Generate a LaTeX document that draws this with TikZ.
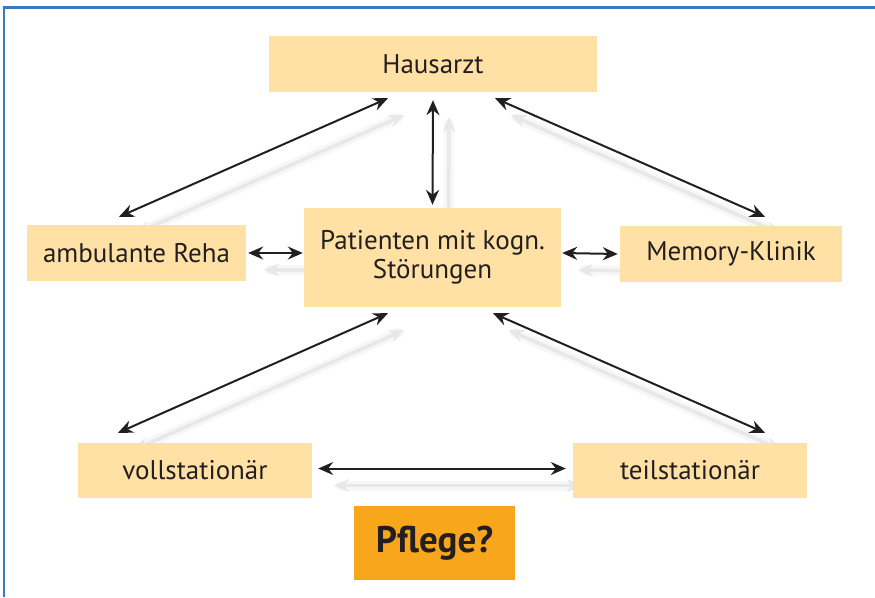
\documentclass[tikz,border=0pt]{standalone}
\usepackage{fontspec}
\setmainfont{PT Sans}
\usetikzlibrary{arrows.meta,backgrounds}

\definecolor{boxfill}{HTML}{FFE1A5}
\definecolor{pflegefill}{HTML}{F8A61C}
\definecolor{framecol}{HTML}{3B78C2}
\definecolor{textcol}{HTML}{231F20}

\tikzset{%
        every box/.style={
            fill=boxfill,
            text=textcol,
            inner sep=0pt,
            align=center,
            font=\fontsize{27}{29}\selectfont
        },
        box pflege/.style={
            fill=pflegefill,
            font=\fontsize{37}{40}\selectfont\bfseries
        },
        link/.style={<->, line width=2pt, draw=textcol},
        shade wide/.style={line width=10pt, draw=black!3, line cap=round},
        shade/.style={<->, line width=3.5pt, draw=black!9},
        frame/.style={line width=2.2pt, draw=framecol}
    }

\newcommand\drawlinks[2]{%
    \draw[#1] ([shift={#2},xshift=-45pt,yshift=-6pt]hausarzt.south) -- ([shift={#2},xshift=-17.5pt,yshift=8pt]reha.north);
    \draw[#1] ([shift={#2},yshift=-8pt]hausarzt.south) -- ([shift={#2},yshift=3pt]patient.north);
    \draw[#1] ([shift={#2},xshift=62pt,yshift=-6pt]hausarzt.south) -- ([shift={#2},xshift=34pt,yshift=9pt]memory.north);
    \draw[#1] ([shift={#2},xshift=-44.5pt,yshift=-6pt]patient.south) -- ([shift={#2},xshift=-77pt,yshift=10pt]voll.north);
    \draw[#1] ([shift={#2},xshift=60.5pt,yshift=-6pt]patient.south) -- ([shift={#2},xshift=75pt,yshift=10pt]teil.north);
    \draw[#1] ([shift={#2},xshift=2pt]reha.east) -- ([shift={#2},xshift=-1pt,yshift=4.5pt]patient.west);
    \draw[#1] ([shift={#2},xshift=1pt,yshift=4.5pt]patient.east) -- ([shift={#2},xshift=-2pt]memory.west);
    \draw[#1] ([shift={#2},xshift=6pt,yshift=2pt]voll.east) -- ([shift={#2},xshift=-7pt,yshift=2pt]teil.west);
}

\begin{document}
\begin{tikzpicture}[x=1pt, y=-1pt, >={Stealth[length=15pt,width=13pt,inset=5pt]}]

        \useasboundingbox (0,0) rectangle (875,597);
        \draw[frame] (4,597) -- (4,7.5) -- (875,7.5);

        \foreach \n/\x/\y/\w/\h/\t in {hausarzt/433/64/328/56/Hausarzt,
                                       reha/136.5/253/219/56/ambulante Reha,
                                       patient/432.5/257.5/257/99/Patienten mit kogn.\\Störungen,
                                       memory/731/254/222/56/Memory-Klinik,
                                       voll/195/470.5/234/55/vollstationär,
                                       teil/690/470.5/234/55/teilstationär,
                                       pflege/434.5/543/161/74/Pflege?}
        \node [every box/.try, box \n/.try, minimum width=\w pt, minimum height=\h pt] (\n) at (\x,\y) {\t};

        \begin{scope}[on background layer]
            \drawlinks{shade wide, shorten <=6pt, shorten >=6pt}{(16pt,-17pt)}
            \drawlinks{shade}{(16pt,-17pt)}
        \end{scope}

        \drawlinks{link}{(0pt,0pt)}
    \end{tikzpicture}
\end{document}
